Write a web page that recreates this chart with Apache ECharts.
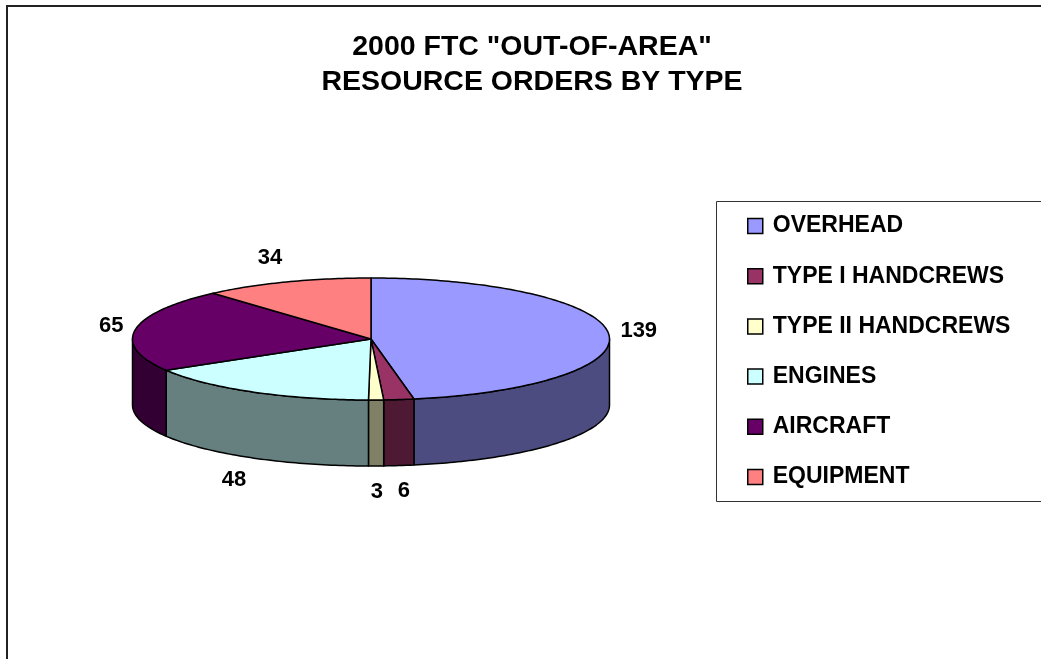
<!DOCTYPE html>
<html>
<head>
<meta charset="utf-8">
<script src="https://cdn.jsdelivr.net/npm/echarts@6/dist/echarts.min.js"></script>
<style>
  html, body { margin: 0; padding: 0; background: #fff; }
  #viz { width: 1041px; height: 659px; }
</style>
</head>
<body>
<div id="viz"></div>
<script>
// chart data
var categories = ['OVERHEAD', 'TYPE I HANDCREWS', 'TYPE II HANDCREWS', 'ENGINES', 'AIRCRAFT', 'EQUIPMENT'];
var values = [139, 6, 3, 48, 65, 34];
var topColors = ['#9999FF', '#993366', '#FFFFCC', '#CCFFFF', '#660066', '#FF8080'];
var sideColors = ['#4C4C80', '#4D1933', '#808066', '#668080', '#330033', '#804040'];

// ellipse layout of the 3d pie
var CX = 371, CY = 339, RX = 238.5, RY = 61, DEPTH = 66;
var FAMILY = '"Liberation Sans", Arial, sans-serif';
var FONT = 'bold 22px ' + FAMILY;

var total = 0;
for (var i = 0; i < values.length; i++) { total += values[i]; }

// to place the labels by their near edge
var measure = document.createElement('canvas').getContext('2d');
measure.font = FONT;

function pt(deg, dy) {
  var r = deg * Math.PI / 180;
  return [CX + RX * Math.sin(r), CY - RY * Math.cos(r) + (dy || 0)];
}

function arc(a1, a2, dy) {
  var pts = [];
  var n = Math.max(2, Math.ceil(Math.abs(a2 - a1)));
  for (var k = 0; k <= n; k++) {
    pts.push(pt(a1 + (a2 - a1) * k / n, dy));
  }
  return pts;
}

function sliceRender(idx) {
  return function (params, api) {
    var before = 0;
    for (var j = 0; j < idx; j++) { before += values[j]; }
    var a1 = before / total * 360;
    var a2 = (before + api.value(0)) / total * 360;
    var children = [];

    // outer wall, only the front half is seen
    var b1 = Math.max(a1, 90), b2 = Math.min(a2, 270);
    if (b2 > b1) {
      var side = arc(b1, b2, 0).concat(arc(b2, b1, DEPTH));
      children.push({
        type: 'polygon',
        shape: { points: side },
        style: { fill: sideColors[idx], stroke: '#000', lineWidth: 1.5, lineJoin: 'round' }
      });
    }

    // top face
    var top = [[CX, CY]].concat(arc(a1, a2, 0));
    children.push({
      type: 'polygon',
      shape: { points: top },
      style: { fill: topColors[idx], stroke: '#000', lineWidth: 1.5, lineJoin: 'round' }
    });

    // value label outside the slice
    var txt = String(api.value(0));
    var hw = measure.measureText(txt).width / 2, hh = 8;
    var mid = (a1 + a2) / 2 * Math.PI / 180;
    var sn = Math.sin(mid), cs = Math.cos(mid);
    var lx = CX + RX * 1.05 * sn + (sn < 0 ? -1 : 1) * hw * Math.min(1, Math.abs(sn) * 5);
    var ly = CY - RY * 1.29 * cs - hh * cs + (cs < 0 ? DEPTH : 0);
    children.push({
      type: 'text',
      style: { text: txt, x: lx, y: ly, fill: '#000', font: FONT, align: 'center', verticalAlign: 'middle' }
    });

    return { type: 'group', children: children };
  };
}

var dom = document.getElementById('viz');
var myChart = echarts.init(dom);

var series = [];
for (var s = 0; s < categories.length; s++) {
  series.push({
    name: categories[s],
    type: 'custom',
    coordinateSystem: 'none',
    silent: true,
    animation: false,
    itemStyle: { color: topColors[s] },
    renderItem: sliceRender(s),
    data: [[values[s]]]
  });
}

var option = {
  animation: false,
  color: topColors,
  title: {
    text: '2000 FTC "OUT-OF-AREA"\nRESOURCE ORDERS BY TYPE',
    left: 527,
    top: 24,
    textAlign: 'center',
    textStyle: {
      fontFamily: FAMILY,
      fontWeight: 'bold',
      fontSize: 28.5,
      lineHeight: 35.5,
      color: '#000'
    }
  },
  legend: {
    orient: 'vertical',
    left: 747,
    top: 214.5,
    padding: 0,
    icon: 'rect',
    itemWidth: 15,
    itemHeight: 15,
    itemGap: 27.2,
    itemStyle: { borderColor: '#000', borderWidth: 1.5 },
    textStyle: {
      fontFamily: FAMILY,
      fontWeight: 'bold',
      fontSize: 23,
      lineHeight: 23,
      color: '#000',
      padding: [0, 0, 0, 5]
    },
    data: categories.map(function (c, i) {
      return { name: c, itemStyle: { color: topColors[i] } };
    })
  },
  graphic: [
    {
      type: 'rect',
      z: -10,
      shape: { x: 7, y: 6, width: 1100, height: 800 },
      style: { fill: 'none', stroke: '#222', lineWidth: 2 }
    },
    {
      type: 'rect',
      z: -10,
      shape: { x: 716.5, y: 201.5, width: 400, height: 300 },
      style: { fill: 'none', stroke: '#333', lineWidth: 1 }
    }
  ],
  series: series
};

myChart.setOption(option);
</script>
</body>
</html>
